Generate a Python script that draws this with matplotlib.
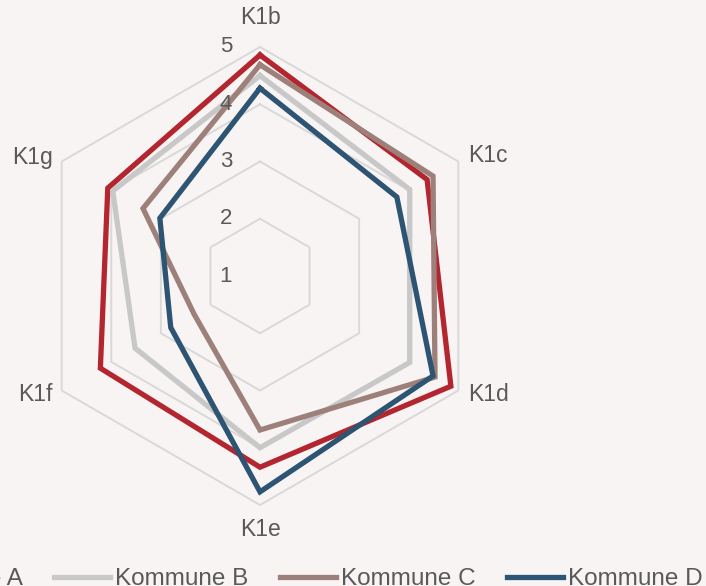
import numpy as np
import matplotlib.pyplot as plt

plt.rcParams['font.family'] = ['Liberation Sans', 'DejaVu Sans']

categories = ["K1b", "K1c", "K1d", "K1e", "K1f", "K1g"]
series_names = ["Kommune A", "Kommune B", "Kommune C", "Kommune D"]
kommune_a = [4.86, 4.37, 4.85, 4.34, 4.22, 4.07]
kommune_b = [4.50, 4.02, 4.02, 4.00, 3.52, 3.97]
kommune_c = [4.69, 4.49, 4.53, 3.69, 2.33, 3.36]
kommune_d = [4.28, 3.76, 4.49, 4.77, 2.80, 3.02]
ring_values = [1, 2, 3, 4, 5]
colors = ["#B3252F", "#C8C8C8", "#9E807B", "#2D5473"]

BG = "#F7F4F3"
TEXT = "#595959"
GRID = "#D9D9D9"

fig = plt.figure(figsize=(7.06, 5.86), dpi=100, facecolor=BG)
ax = fig.add_axes([31 / 706, 81 / 586, 458 / 706, 458 / 586], projection="polar")
ax.set_facecolor("none")
ax.set_theta_offset(np.pi / 2)
ax.set_theta_direction(-1)
ax.set_ylim(1, 5)
ax.set_xticks([])
ax.set_yticks([])
ax.grid(False)
ax.spines["polar"].set_visible(False)

angles = np.linspace(0, 2 * np.pi, len(categories), endpoint=False)
closed = np.append(angles, angles[0])

# hexagon rings
for v in ring_values[1:]:
    ax.plot(closed, [v] * len(closed), color=GRID, lw=1.4, clip_on=False, zorder=1)

# series
handles = []
for name, vals, c in zip(series_names, [kommune_a, kommune_b, kommune_c, kommune_d], colors):
    line, = ax.plot(closed, vals + vals[:1], color=c, lw=3.8, solid_joinstyle="miter",
                    clip_on=False, zorder=2, label=name)
    handles.append(line)

# ring labels
for v in ring_values:
    ax.annotate(str(v), xy=(0, v), xytext=(-20, 0), textcoords="offset points",
                ha="right", va="center", fontsize=16, color=TEXT)

# category labels
offsets = [(0, 21, "center"), (7, 4.3, "left"), (7, -3.2, "left"),
           (0, -18, "center"), (-6.5, -3.2, "right"), (-6.5, 3.2, "right")]
for ang, lab, (dx, dy, ha) in zip(angles, categories, offsets):
    ax.annotate(lab, xy=(ang, 5), xytext=(dx, dy), textcoords="offset points",
                ha=ha, va="center", fontsize=16.5, color=TEXT, annotation_clip=False)

# legend, first entry runs off the left edge as in the original
fig.legend(handles, series_names, loc="center left", bbox_to_anchor=(-170 / 706, 7 / 586),
           ncol=4, frameon=False, handlelength=2.3, handletextpad=0.2,
           columnspacing=1.3, borderpad=0, borderaxespad=0, fontsize=17.5,
           labelcolor=TEXT)

fig.savefig("out.png", dpi=100, facecolor=BG)
